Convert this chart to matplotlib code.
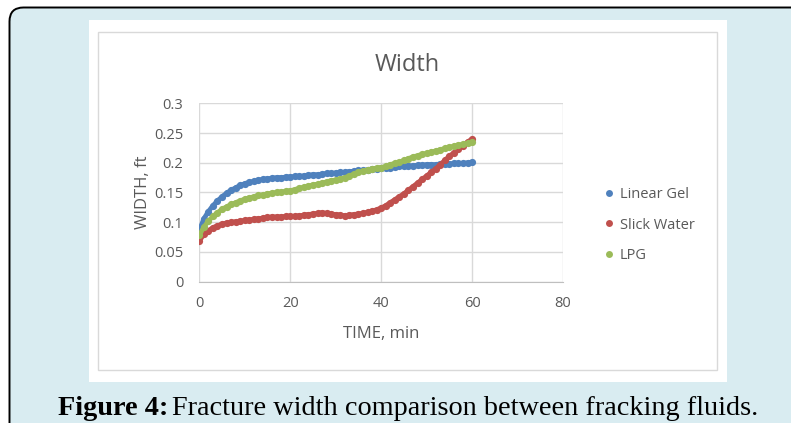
import matplotlib
matplotlib.use("Agg")
import matplotlib.pyplot as plt
import numpy as np
from matplotlib.patches import FancyBboxPatch, Rectangle
from matplotlib.transforms import IdentityTransform

# time in minutes, one reading per minute
time_min = list(range(0, 61))

linear_gel = [0.086, 0.106, 0.118, 0.128, 0.136, 0.143, 0.149, 0.154, 0.158, 0.162,
              0.165, 0.167, 0.169, 0.171, 0.172, 0.173, 0.174, 0.175, 0.175, 0.176,
              0.176, 0.177, 0.177, 0.178, 0.179, 0.180, 0.180, 0.181, 0.182, 0.182,
              0.183, 0.184, 0.184, 0.185, 0.186, 0.187, 0.187, 0.188, 0.189, 0.190,
              0.191, 0.192, 0.192, 0.193, 0.194, 0.194, 0.195, 0.195, 0.196, 0.196,
              0.197, 0.197, 0.197, 0.198, 0.198, 0.198, 0.199, 0.199, 0.199, 0.200,
              0.201]

slick_water = [0.068, 0.080, 0.086, 0.091, 0.094, 0.097, 0.099, 0.100, 0.101, 0.102,
               0.103, 0.104, 0.105, 0.106, 0.107, 0.108, 0.109, 0.109, 0.109, 0.110,
               0.110, 0.110, 0.111, 0.112, 0.113, 0.114, 0.115, 0.116, 0.115, 0.114,
               0.113, 0.112, 0.111, 0.112, 0.113, 0.114, 0.115, 0.117, 0.119, 0.121,
               0.124, 0.128, 0.133, 0.138, 0.143, 0.148, 0.154, 0.160, 0.166, 0.172,
               0.178, 0.184, 0.190, 0.197, 0.204, 0.211, 0.217, 0.223, 0.229, 0.235,
               0.240]

lpg = [0.078, 0.092, 0.102, 0.110, 0.116, 0.122, 0.126, 0.130, 0.133, 0.136,
       0.139, 0.141, 0.143, 0.145, 0.146, 0.148, 0.149, 0.150, 0.151, 0.152,
       0.153, 0.155, 0.157, 0.159, 0.161, 0.163, 0.164, 0.166, 0.168, 0.170,
       0.171, 0.173, 0.175, 0.178, 0.181, 0.184, 0.186, 0.188, 0.190, 0.191,
       0.192, 0.194, 0.197, 0.199, 0.201, 0.204, 0.207, 0.210, 0.212, 0.214,
       0.216, 0.218, 0.220, 0.222, 0.224, 0.226, 0.228, 0.230, 0.231, 0.233,
       0.235]

series_names = ["Linear Gel", "Slick Water", "LPG"]
series_colors = ["#4F81BD", "#C0504D", "#9BBB59"]
x_ticks = [0, 20, 40, 60, 80]
y_ticks = [0, 0.05, 0.1, 0.15, 0.2, 0.25, 0.3]
y_tick_labels = ["0", "0.05", "0.1", "0.15", "0.2", "0.25", "0.3"]

W, H = 791, 423
plt.rcParams['font.family'] = ['Open Sans', 'DejaVu Sans']
txt_color = "#595959"

fig = plt.figure(figsize=(W / 100, H / 100), dpi=100)
fig.patch.set_facecolor("white")

# page frame, white panel and chart border (pixel coords)
frame = FancyBboxPatch((9.5, -20), 820, H - 7.5 + 20,
                       boxstyle="round,pad=0,rounding_size=14",
                       facecolor="#d9ecf1", edgecolor="black", linewidth=1.4,
                       transform=IdentityTransform(), zorder=-10)
fig.add_artist(frame)
panel = Rectangle((89, H - 381.7), 637.7, 361.7, facecolor="white",
                  edgecolor="none", transform=IdentityTransform(), zorder=-9)
fig.add_artist(panel)
border = Rectangle((98.3, H - 370), 619, 338.3, facecolor="white",
                   edgecolor="#d9d9d9", linewidth=1.0,
                   transform=IdentityTransform(), zorder=-8)
fig.add_artist(border)

ax = fig.add_axes([199.3 / W, (H - 281.7) / H, (563 - 199.3) / W, (281.7 - 103.3) / H])
ax.set_facecolor("none")

data = [linear_gel, slick_water, lpg]
for vals, name, col in zip(data, series_names, series_colors):
    ax.plot(time_min, vals, linestyle="-", linewidth=3.4, marker="o",
            markersize=5.2, markeredgewidth=0, color=col, label=name,
            solid_capstyle="round")

ax.set_xlim(0, 80)
ax.set_ylim(0, 0.3)
ax.set_xticks(x_ticks)
ax.set_yticks(y_ticks)
ax.set_yticklabels(y_tick_labels)
ax.grid(True, color="#d9d9d9", linewidth=1.0)
ax.set_axisbelow(True)
for s in ["top", "right", "left"]:
    ax.spines[s].set_visible(False)
ax.spines["bottom"].set_color("#bfbfbf")
ax.tick_params(length=0, labelsize=10.5, colors=txt_color)
ax.tick_params(axis="y", pad=11.5)
ax.tick_params(axis="x", pad=10)

ax.set_xlabel("TIME, min", fontsize=12, color=txt_color, labelpad=11)
ax.set_ylabel("WIDTH, ft", fontsize=12, color=txt_color, labelpad=2)
fig.text(407 / W, 1 - 65 / H, "Width", ha="center", va="center",
         fontsize=17, color=txt_color)

# legend handles: markers only
handles = [plt.Line2D([], [], linestyle="none", marker="o", markersize=5,
                      markeredgewidth=0, color=c) for c in series_colors]
leg = ax.legend(handles, series_names, loc="center left",
                bbox_to_anchor=(597 / W, 1 - 225 / H),
                bbox_transform=fig.transFigure, frameon=False, fontsize=10.5,
                labelspacing=1.05, handlelength=0.6, handletextpad=0.45,
                borderpad=0)
for t in leg.get_texts():
    t.set_color(txt_color)

# caption
cap1 = fig.text(58 / W, 1 - 408 / H, "Figure 4:", ha="left", va="center",
                fontsize=20.3, fontweight="bold", family="Liberation Serif",
                color="black")
fig.canvas.draw()
bb = cap1.get_window_extent()
fig.text((bb.x1 + 3.5) / W, 1 - 408 / H, "Fracture width comparison between fracking fluids.",
         ha="left", va="center", fontsize=20.3, family="Liberation Serif", color="black")

fig.savefig("out.png", dpi=100)
